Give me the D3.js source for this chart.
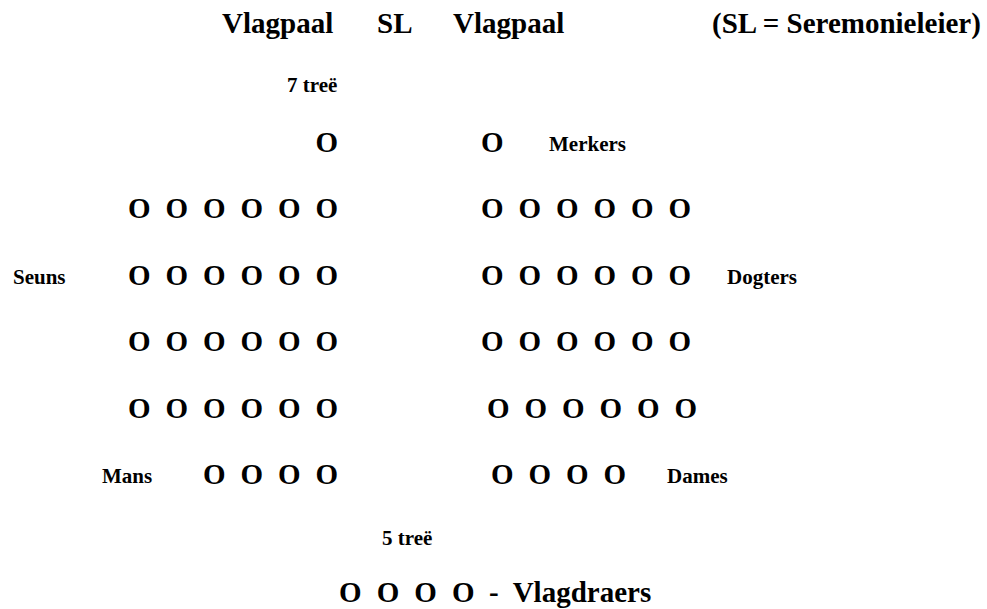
<!DOCTYPE html>
<html>
<head>
<meta charset="utf-8">
<script src="https://cdn.jsdelivr.net/npm/d3@7"></script>
<style>
  html, body { margin: 0; padding: 0; background: #fff; }
  svg text { font-family: "Liberation Serif", "Times New Roman", serif; font-weight: bold; fill: #000; }
</style>
</head>
<body>
<svg id="chart" width="987" height="609"></svg>
<script>
// ---- data ----
const headerWords = ["Vlagpaal", "SL", "Vlagpaal", "(SL = Seremonieleier)"];
const stepLabels = ["7 treë", "5 treë"];
const leftCounts = [1, 6, 6, 6, 6, 4];   // O's per row, left block (aligned to the inner side)
const rightCounts = [1, 6, 6, 6, 6, 4];  // O's per row, right block
const sideLabels = ["Merkers", "Seuns", "Dogters", "Mans", "Dames"];
const sideLabelRows = [0, 2, 2, 5, 5];
const bearerCount = 4;
const bearerLabel = "-  Vlagdraers";
const marker = "O";

// ---- layout ----
const svg = d3.select("#chart");
const bigFont = 29, smallFont = 21;
const headerX = [222, 377, 453, 712];
const sideLabelX = { Merkers: 549, Seuns: 13, Dogters: 727, Mans: 102, Dames: 667 };
const rightShift = [0, 0, 0, 0, 6, 10];

const rowY = d3.scaleLinear().domain([0, 5]).range([152, 484]);
const colL = d3.scaleLinear().domain([0, 5]).range([128, 315.5]);
const colR = d3.scaleLinear().domain([0, 5]).range([481, 668.5]);
const bearerX = d3.scaleLinear().domain([0, 3]).range([339, 452]);
const bearerY = 602;

// header
svg.selectAll("text.header").data(headerWords).join("text")
  .attr("class", "header")
  .attr("x", (d, i) => headerX[i]).attr("y", 33)
  .style("font-size", bigFont + "px")
  .text(d => d);

// step labels
svg.append("text").attr("x", 287).attr("y", 92).style("font-size", smallFont + "px").text(stepLabels[0]);
svg.append("text").attr("x", 382).attr("y", 545).style("font-size", smallFont + "px").text(stepLabels[1]);

// formation markers
const marks = [];
leftCounts.forEach((n, r) => {
  for (let k = 0; k < n; k++) marks.push({ x: colL(5 - n + 1 + k), y: rowY(r) });
});
rightCounts.forEach((n, r) => {
  for (let k = 0; k < n; k++) marks.push({ x: colR(k) + rightShift[r], y: rowY(r) });
});
svg.selectAll("text.mark").data(marks).join("text")
  .attr("class", "mark")
  .attr("x", d => d.x).attr("y", d => d.y)
  .style("font-size", bigFont + "px")
  .text(marker);

// side labels
svg.selectAll("text.side").data(sideLabels).join("text")
  .attr("class", "side")
  .attr("x", d => sideLabelX[d])
  .attr("y", (d, i) => rowY(sideLabelRows[i]) - 1)
  .style("font-size", smallFont + "px")
  .text(d => d);

// flag bearers
svg.selectAll("text.bearer").data(d3.range(bearerCount)).join("text")
  .attr("class", "bearer")
  .attr("x", d => bearerX(d)).attr("y", bearerY)
  .style("font-size", bigFont + "px")
  .text(marker);
svg.append("text").attr("x", 489).attr("y", bearerY)
  .style("font-size", bigFont + "px")
  .style("white-space", "pre")
  .attr("xml:space", "preserve")
  .text(bearerLabel);
</script>
</body>
</html>
